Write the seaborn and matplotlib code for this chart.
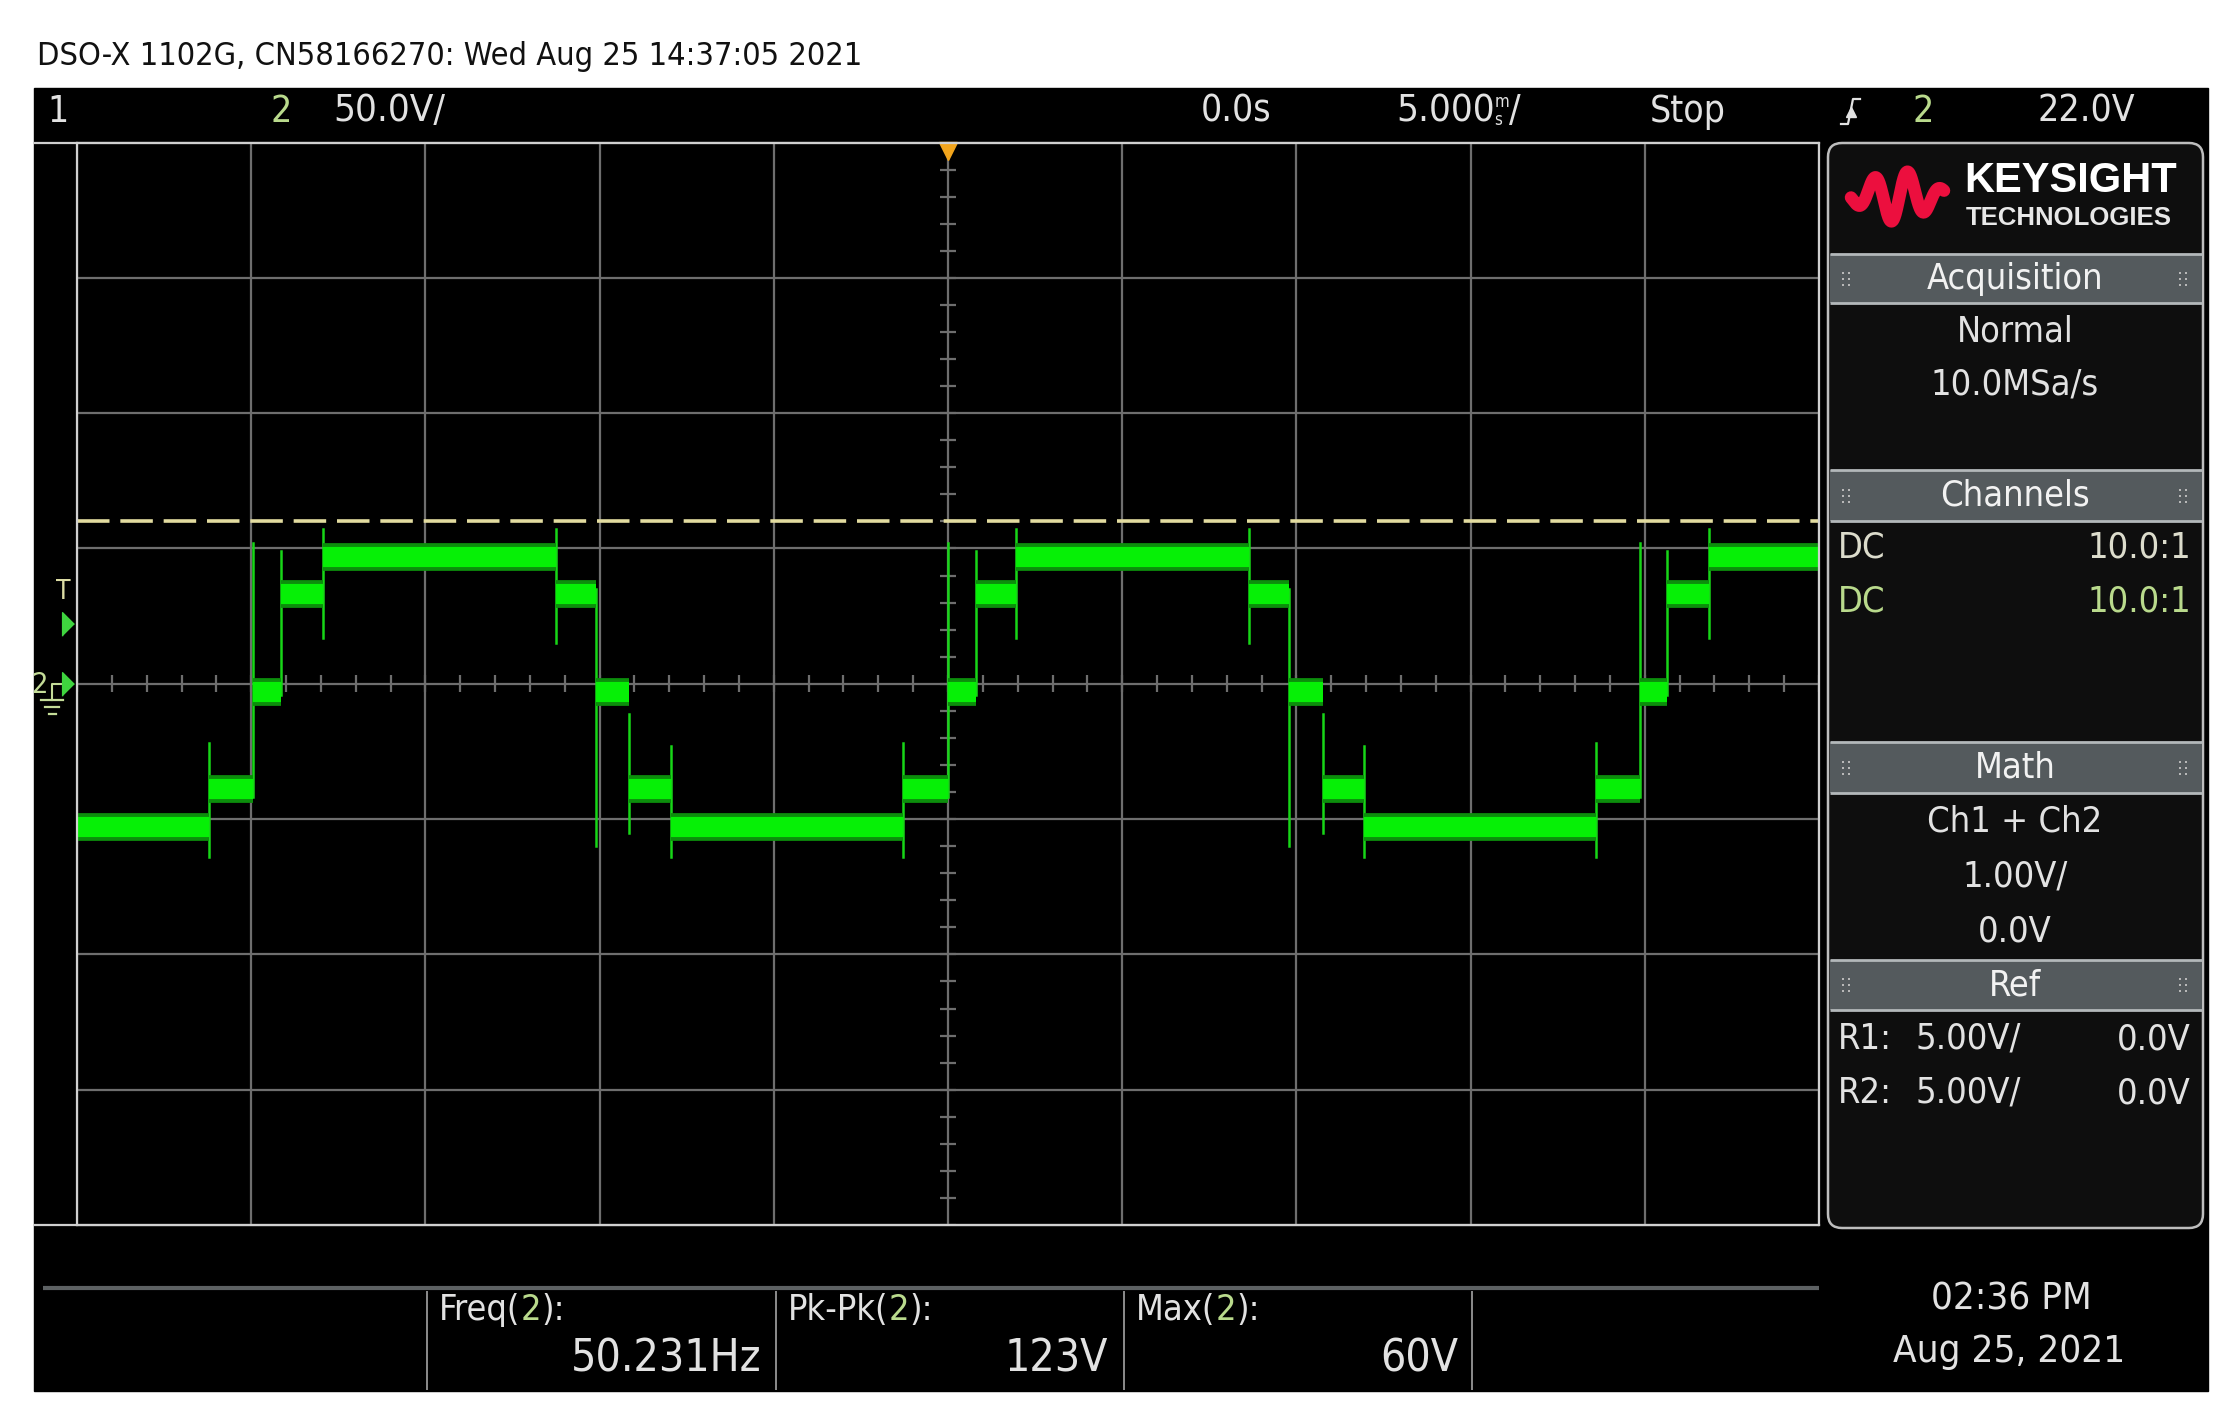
import numpy as np
import pandas as pd
import seaborn as sns
import matplotlib.pyplot as plt
from matplotlib import font_manager as fm
from matplotlib.patches import Rectangle, FancyBboxPatch
from matplotlib.transforms import blended_transform_factory

# values
title = "DSO-X 1102G, CN58166270: Wed Aug 25 14:37:05 2021"

# channel 2 staircase: edge times (ms) and the level (V) held between edges
edge_ms = [-21.2, -19.95, -19.15, -17.95, -11.25, -10.1, -9.15, -7.95,
           -1.3, 0.0, 0.8, 1.95, 8.65, 9.8, 10.75, 11.95,
           18.6, 19.85, 20.65, 21.85]
level_v = [-53, -39, -3, 33, 47, 33, -3, -39, -53,
           -39, -3, 33, 47, 33, -3, -39, -53,
           -39, -3, 33, 47]
# switching spikes seen at each edge (V)
spike_lo = [-64, -42, -4, 17, 15, -60, -55, -64,
            -64, -42, -4, 17, 15, -60, -55, -64,
            -64, -42, -4, 17]
spike_hi = [-22, 52, 49, 57, 57, 35, -11, -23,
            -22, 52, 49, 57, 57, 35, -11, -23,
            -22, 52, 49, 57]

max_v = 60.0
trig_v = 22.0
trig_t = 0.0
volts_div = 50.0
ms_div = 5.0

meas_names = ["Freq", "Pk-Pk", "Max"]
meas_vals = ["50.231Hz", "123V", "60V"]

CH2 = '#b9da8c'
TXT = '#e2e2e2'
W, H = 2234, 1424


# the scope uses a tall narrow face; take the narrowest regular one installed
def narrow_path():
    best = None
    for f in fm.fontManager.ttflist:
        if f.style != 'normal' or f.weight not in (400, 'normal', 'regular', 'book'):
            continue
        rank = None
        if f.name == 'Liberation Sans Narrow':
            rank = 0
        elif f.name == 'DejaVu Sans' and 'condensed' in str(f.stretch):
            rank = 1
        elif 'Condensed' in f.name or 'Narrow' in f.name or 'condensed' in str(f.stretch):
            rank = 2
        if rank is not None and (best is None or rank < best[0]):
            best = (rank, f.fname)
    return best[1] if best else None


NPATH = narrow_path()

fig = plt.figure(figsize=(W / 100, H / 100), dpi=100, facecolor='white')
renderer = fig.canvas.get_renderer()


def base_fp(size):
    if NPATH:
        return fm.FontProperties(fname=NPATH, size=size)
    return fm.FontProperties(family='DejaVu Sans', size=size)


# scale so that "Acquisition" at nominal 30 comes out ~177 px wide, as on the screen
_probe = fig.text(0, 0, "Acquisition", fontproperties=base_fp(30))
SCALE = 177.0 / _probe.get_window_extent(renderer).width
_probe.remove()


def F(size):
    return base_fp(size * SCALE)


# whole screen in pixel coordinates
scr = fig.add_axes([0, 0, 1, 1])
scr.set_xlim(0, W)
scr.set_ylim(H, 0)
scr.axis('off')
scr.add_patch(Rectangle((34, 88), 2208 - 34, 1391 - 88, color='black'))

scr.text(37, 57, title, fontproperties=F(27), va='center', color='#111111')

# header line
hy = 111
scr.text(47, hy, "1", fontproperties=F(31), va='center', color=TXT)
scr.text(281, hy, "2", fontproperties=F(31), va='center', ha='center', color=CH2)
scr.text(333, hy, "50.0V/", fontproperties=F(32), va='center', color=TXT)
scr.text(1201, hy, "0.0s", fontproperties=F(31), va='center', color=TXT)
five = scr.text(1396, hy, "5.000", fontproperties=F(32), va='center', color=TXT)
m = scr.annotate("m", xy=(1, 0.5), xycoords=five, fontproperties=F(14),
                 va='bottom', ha='left', color=TXT)
scr.annotate("s", xy=(1, 0.5), xycoords=five, fontproperties=F(14),
             va='top', ha='left', color=TXT)
scr.annotate("/", xy=(1, 0), xycoords=(m, five), fontproperties=F(32),
             va='bottom', ha='left', color=TXT)
scr.text(1650, hy, "Stop", fontproperties=F(31), va='center', color=TXT)
scr.plot([1841, 1848, 1853, 1860], [124, 124, 99, 99], color=TXT, lw=1.6)
scr.plot([1850.5], [112], marker='^', ms=7, color=TXT)
scr.text(1923, hy, "2", fontproperties=F(31), va='center', ha='center', color=CH2)
scr.text(2037, hy, f"{trig_v:.1f}V", fontproperties=F(31), va='center', color=TXT)

GX0, GX1, GY0, GY1 = 77, 1819, 142.5, 1225
scr.hlines([GY0, GY1], 34, GX1, color='#cfcfcf', lw=1.6)

# left side markers
scr.text(63, 592, "T", fontproperties=F(22), va='center', ha='center', color='#dcdca4')
scr.text(39, 685, "2", fontproperties=F(24), va='center', ha='center', color='#c4dc98')
scr.plot([62, 52, 52], [684, 684, 700], color='#c4dc98', lw=1.5)
for yy, half in [(700, 11), (707, 7), (714, 3.5)]:
    scr.plot([52 - half, 52 + half], [yy, yy], color='#c4dc98', lw=1.6)

# right info panel
scr.add_patch(FancyBboxPatch((1828, 143), 2203 - 1828, 1228 - 143,
                             boxstyle='round,pad=0,rounding_size=14',
                             fc='#0e0e0e', ec='#bdbdbd', lw=1.8))
# logo wave, drawn as a thick stroke
xs = np.linspace(0, 1, 300)
env = np.exp(-((xs - 0.5) / 0.42) ** 2)
yc = 196 - 26 * env * np.sin(2 * np.pi * 2.8 * xs - 2.9)
scr.plot(1851 + 93 * xs, yc, color='#ec0f3e', lw=9, solid_capstyle='round',
         solid_joinstyle='round')
scr.text(2071, 181, "KEYSIGHT", fontsize=30, family='Liberation Sans', weight='bold',
         ha='center', va='center', color='white')
scr.text(2069, 218, "TECHNOLOGIES", fontsize=18.5, family='Liberation Sans', weight='bold',
         ha='center', va='center', color='#e8e8e8')

bars = [(254, 303, "Acquisition"), (470, 521, "Channels"), (742, 793, "Math"), (960, 1010, "Ref")]
for y0, y1, lab in bars:
    scr.add_patch(Rectangle((1830, y0), 2202 - 1830, y1 - y0, fc='#545a5d', ec='none'))
    scr.hlines([y0, y1], 1830, 2202, color='#b3b8ba', lw=2)
    cy = (y0 + y1) / 2
    scr.text(2015, cy, lab, fontproperties=F(30), ha='center', va='center', color='#f2f2f2')
    for gx in (1846, 2183):
        scr.scatter([gx - 3, gx + 3] * 3, [cy - 6] * 2 + [cy] * 2 + [cy + 6] * 2,
                    s=4, marker='s', color='#b8b8b8', lw=0)


def ptext(x, y, s, ha='center', color=TXT):
    scr.text(x, y, s, fontproperties=F(30), ha=ha, va='center', color=color)


ptext(2015, 331, "Normal")
ptext(2015, 384, "10.0MSa/s")
ptext(1838, 548, "DC", 'left', '#dcdccc')
ptext(2191, 548, "10.0:1", 'right', '#dcdccc')
ptext(1838, 602, "DC", 'left', CH2)
ptext(2191, 602, "10.0:1", 'right', CH2)
ptext(2015, 822, "Ch1 + Ch2")
ptext(2015, 877, "1.00V/")
ptext(2015, 931, "0.0V")
for ry, lab in [(1039, "R1:"), (1093, "R2:")]:
    ptext(1838, ry, lab, 'left')
    ptext(1915, ry, "5.00V/", 'left')
    ptext(2191, ry, "0.0V", 'right')

# measurement strip
scr.hlines(1288, 43, GX1, color='#5d6163', lw=3)
scr.vlines([427, 776, 1124, 1472], 1291, 1390, color='#8c8c8c', lw=1.4)
for x0, x1, name, val in zip([439, 788, 1136], [762, 1108, 1458], meas_names, meas_vals):
    a = scr.text(x0, 1310, name + "(", fontproperties=F(30), va='center', color=TXT)
    b = scr.annotate("2", xy=(1, 0), xycoords=a, va='bottom', fontproperties=F(30), color=CH2)
    scr.annotate("):", xy=(1, 0), xycoords=b, va='bottom', fontproperties=F(30), color=TXT)
    scr.text(x1, 1359, val, fontproperties=F(37), ha='right', va='center', color=TXT)
scr.text(2011, 1299, "02:36 PM", fontproperties=F(32), ha='center', va='center', color=TXT)
scr.text(2009, 1352, "Aug 25, 2021", fontproperties=F(32), ha='center', va='center', color=TXT)

# graticule and trace
ax = fig.add_axes([GX0 / W, 1 - GY1 / H, (GX1 - GX0) / W, (GY1 - GY0) / H])
ax.set_facecolor('black')

bounds = [-5 * ms_div] + edge_ms + [5 * ms_div]
rows = []
for i, v in enumerate(level_v):
    rows += [(bounds[i], v, i), (bounds[i + 1], v, i)]
seg = pd.DataFrame(rows, columns=['t', 'v', 'seg'])

erows = []
for i, t in enumerate(edge_ms):
    erows += [(t, spike_lo[i], i), (t, spike_hi[i], i)]
edges = pd.DataFrame(erows, columns=['t', 'v', 'edge'])

sns.lineplot(data=edges, x='t', y='v', units='edge', estimator=None, sort=False,
             color='#17d617', lw=1.8, ax=ax, legend=False)
sns.lineplot(data=seg, x='t', y='v', units='seg', estimator=None, sort=False,
             color='#0c8e0c', lw=20, solid_capstyle='butt', ax=ax, legend=False)
sns.lineplot(data=seg, x='t', y='v', units='seg', estimator=None, sort=False,
             color='#06f006', lw=14.5, solid_capstyle='butt', ax=ax, legend=False)

ax.axhline(max_v, color='#e3dca0', lw=2.6, dashes=(9, 3), zorder=1)

ax.set_xlim(-5 * ms_div, 5 * ms_div)
ax.set_ylim(-4 * volts_div, 4 * volts_div)
ax.set_xticks(np.arange(-5, 6) * ms_div)
ax.set_yticks(np.arange(-4, 5) * volts_div)
ax.grid(True, color='#6e6e6e', lw=1.6)
ax.set_axisbelow(True)
ax.tick_params(length=0, labelbottom=False, labelleft=False)
ax.set_xlabel('')
ax.set_ylabel('')
for sp in ax.spines.values():
    sp.set_color('#d0d0d0')
    sp.set_linewidth(1.6)

# fine ticks on the centre cross
ax.vlines(np.arange(-25, 25.01, 1.0), -3.1, 3.1, color='#6e6e6e', lw=1.6, zorder=0)
ax.hlines(np.arange(-200, 200.1, 10), -0.24, 0.24, color='#6e6e6e', lw=1.6, zorder=0)

# trigger / ground markers tied to data values
tall_tri = [(-0.5, -1), (-0.5, 1), (0.5, 0)]
lt = blended_transform_factory(ax.transAxes, ax.transData)
ax.plot([-0.0049], [trig_v], marker=tall_tri, ms=17, color='#3fd43f', lw=0,
        transform=lt, clip_on=False)
ax.plot([-0.0049], [0], marker=tall_tri, ms=17, color='#3fd43f', lw=0,
        transform=lt, clip_on=False)
tt = blended_transform_factory(ax.transData, ax.transAxes)
ax.plot([trig_t], [0.992], marker='v', ms=13, color='#f2a51c', transform=tt, clip_on=False)

fig.savefig("out.png", dpi=100)
